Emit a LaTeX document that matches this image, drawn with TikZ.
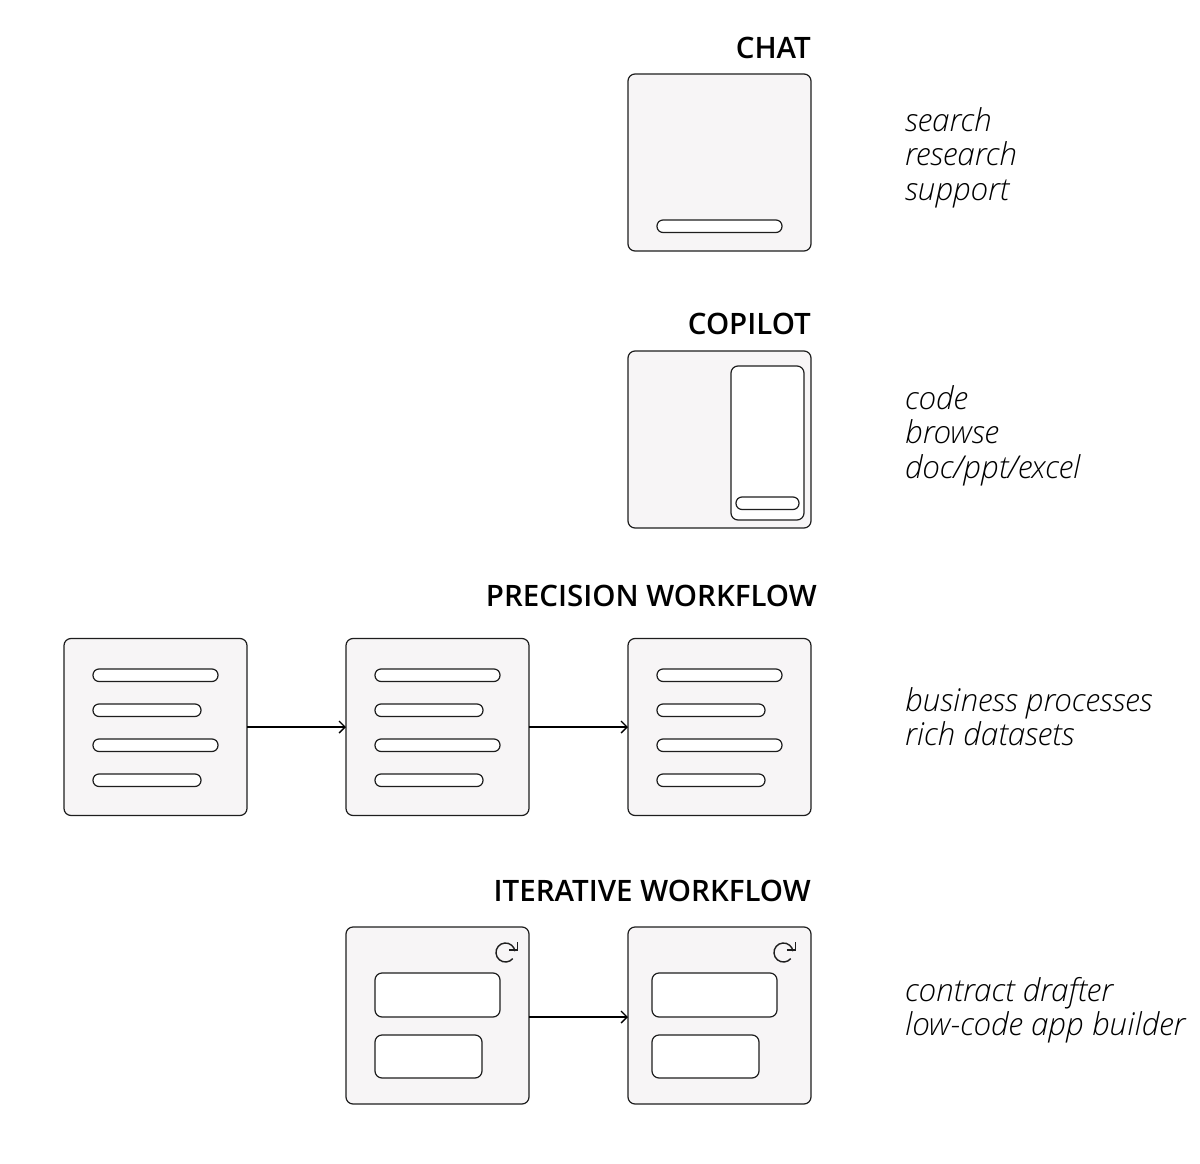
\documentclass[tikz,border=0pt]{standalone}
\usepackage{fontspec}
\setmainfont{Open Sans}
\newfontfamily\titlefont{Open Sans}[BoldFont=* Semibold]
\newfontfamily\notefont{Open Sans Light}
\usetikzlibrary{arrows.meta}
\definecolor{panelgray}{HTML}{F7F5F6}
\definecolor{inkgray}{HTML}{1E1E1E}
\begin{document}
\begin{tikzpicture}[
      x=1pt,y=-1pt,
      panel/.style={draw=inkgray,fill=panelgray,line width=1.2pt,rounded corners=7pt,outer sep=0pt,inner sep=0pt,minimum width=183pt,minimum height=177pt},
      box/.style={draw=inkgray,fill=white,line width=1.2pt,rounded corners=7pt,outer sep=0pt,inner sep=0pt,anchor=north west},
      bar/.style={box,rounded corners=6pt,minimum height=12.5pt},
      longbar/.style={bar,minimum width=125pt},
      shortbar/.style={bar,minimum width=108pt},
      title/.style={font=\titlefont\bfseries\fontsize{29.5}{32}\selectfont,anchor=base east,inner sep=0pt},
      note/.style={font=\notefont\itshape\fontsize{31.5}{34.5}\selectfont,anchor=north west,align=left,inner sep=0pt},
      flow/.style={line width=1.4pt,black,-{Straight Barb[length=6pt,width=12pt]}},
      turn/.style={line width=1.4pt,inkgray},
      ]
      \useasboundingbox (0,0) rectangle (1200,1164);
      % chat
      \node[title] (t1) at (811,58.5) {CHAT};
      \node[panel] (chat) at (719.5,162.5) {};
      \node[longbar] (chatbar) at (657,220) {};
      \node[note] (n1) at (905,107) {search\\research\\support};
      % copilot
      \node[title] (t2) at (811,334) {COPILOT};
      \node[panel] (cop) at (719.5,439.5) {};
      \node[box,minimum width=73pt,minimum height=154pt] (side) at (731,366) {};
      \node[bar,minimum width=63pt] (sidebar) at (736,497) {};
      \node[note] (n2) at (905,385) {code\\browse\\doc/ppt/excel};
      % precision workflow
      \node[title] (t3) at (817,606) {PRECISION WORKFLOW};
      \foreach \name/\cx/\lx in {w1/155.5/93,w2/437.5/375,w3/719.5/657} {
        \node[panel] (\name) at (\cx,727) {};
        \node[longbar] (\name a) at (\lx,669) {};
        \node[shortbar] (\name b) at (\lx,704) {};
        \node[longbar] (\name c) at (\lx,739) {};
        \node[shortbar] (\name d) at (\lx,774) {};
      }
      \draw[flow] (w1) -- (w2);
      \draw[flow] (w2) -- (w3);
      \node[note] (n3) at (905,687) {business processes\\rich datasets};
      % iterative workflow
      \node[title] (t4) at (811,901) {ITERATIVE WORKFLOW};
      \foreach \name/\cx/\lx/\ix in {i1/437.5/375/505.5,i2/719.5/652/783.5} {
        \node[panel] (\name) at (\cx,1015.5) {};
        \node[box,minimum width=125pt,minimum height=44pt] (\name a) at (\lx,973) {};
        \node[box,minimum width=107pt,minimum height=43pt] (\name b) at (\lx,1035) {};
        \coordinate (\name r) at (\ix,952.5);
        \draw[turn] ([shift={(40:9.5)}]\name r) arc[start angle=40,end angle=352,radius=9.5];
        \draw[turn] ([shift={(3.4,-2.7)}]\name r) -- ++(8.6,0) -- ++(0,-7.5);
      }
      \draw[flow] ([yshift=-1.5pt]i1.east) -- ([yshift=-1.5pt]i2.west);
      \node[note] (n4) at (905,977) {contract drafter\\low-code app builder};
    \end{tikzpicture}
\end{document}
